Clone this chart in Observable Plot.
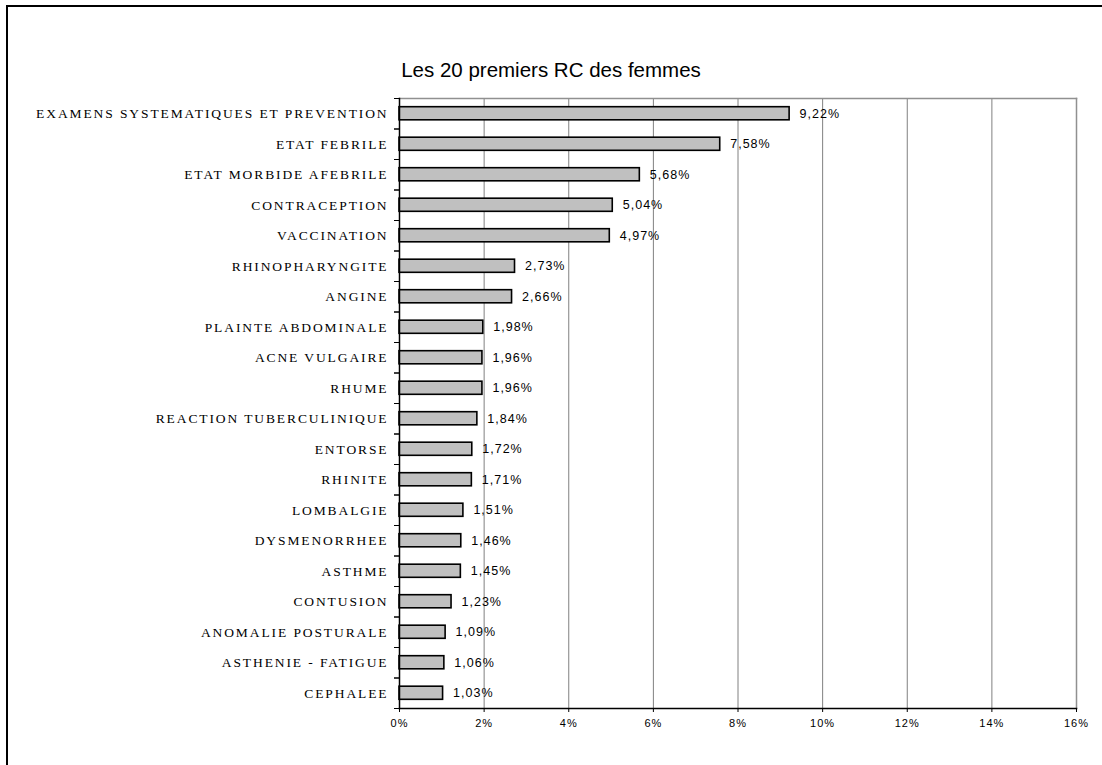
<!DOCTYPE html>
<html>
<head>
<meta charset="utf-8">
<script src="https://cdn.jsdelivr.net/npm/d3@7"></script>
<script src="https://cdn.jsdelivr.net/npm/@observablehq/plot@0.6"></script>
<style>
  html, body { margin: 0; padding: 0; background: #fff; }
  #wrap { position: relative; width: 1102px; height: 765px; overflow: hidden; }
  #border { position: absolute; left: 6px; top: 5px; width: 1200px; height: 900px;
            border-left: 2px solid #000; border-top: 2px solid #000; }
  #title { position: absolute; left: 0; top: 58px; width: 1102px; text-align: center;
           font-family: "Liberation Sans", Arial, sans-serif; font-size: 20.5px; color: #000; }
  #chart { position: absolute; left: 0; top: 0; }
  .ylab text { letter-spacing: 1.9px; }
  .vlab text { letter-spacing: 1px; }
  .xlab text { letter-spacing: 1px; }
</style>
</head>
<body>
<div id="wrap">
  <div id="border"></div>
  <div id="title">Les 20 premiers RC des femmes</div>
  <div id="chart"></div>
</div>
<script>
const categories = [
  "EXAMENS SYSTEMATIQUES ET PREVENTION",
  "ETAT FEBRILE",
  "ETAT MORBIDE AFEBRILE",
  "CONTRACEPTION",
  "VACCINATION",
  "RHINOPHARYNGITE",
  "ANGINE",
  "PLAINTE ABDOMINALE",
  "ACNE VULGAIRE",
  "RHUME",
  "REACTION TUBERCULINIQUE",
  "ENTORSE",
  "RHINITE",
  "LOMBALGIE",
  "DYSMENORRHEE",
  "ASTHME",
  "CONTUSION",
  "ANOMALIE POSTURALE",
  "ASTHENIE - FATIGUE",
  "CEPHALEE"
];
const values = [9.22, 7.58, 5.68, 5.04, 4.97, 2.73, 2.66, 1.98, 1.96, 1.96,
                1.84, 1.72, 1.71, 1.51, 1.46, 1.45, 1.23, 1.09, 1.06, 1.03];
const xTicks = [0, 2, 4, 6, 8, 10, 12, 14, 16];

const data = categories.map((c, i) => ({cat: c, val: values[i]}));
const fmt = v => v.toFixed(2).replace(".", ",") + "%";

const W = 1102, H = 765;
const mL = 399, mR = 26, mT = 98, mB = 57;
const halfStep = (H - mT - mB) / categories.length / 2;

const chart = Plot.plot({
  width: W,
  height: H,
  marginLeft: mL,
  marginRight: mR,
  marginTop: mT,
  marginBottom: mB,
  style: {fontFamily: "Liberation Sans, Arial, sans-serif", fontSize: "11px", color: "#000", background: "transparent"},
  x: {domain: [0, 16], ticks: xTicks, tickFormat: d => d + "%"},
  y: {domain: categories, paddingInner: 0.57, paddingOuter: 0.285, round: false},
  marks: [
    Plot.gridX(xTicks, {stroke: "#808080", strokeOpacity: 1, strokeWidth: 1}),
    Plot.frame({anchor: "top", stroke: "#909090", strokeWidth: 1.5}),
    Plot.frame({anchor: "right", stroke: "#909090", strokeWidth: 1.5}),
    Plot.barX(data, {x: "val", y: "cat", fill: "#c0c0c0", stroke: "#000", strokeWidth: 1.6}),
    Plot.text(data, {x: "val", y: "cat", text: d => fmt(d.val), textAnchor: "start", dx: 10,
                     fontFamily: "Liberation Sans, Arial, sans-serif", fontSize: 12.5, fill: "#000",
                     className: "vlab"}),
    Plot.axisY({tickSize: 0, tickPadding: 11, fontFamily: "Liberation Serif, Times New Roman, serif",
                fontSize: 13.5, className: "ylab", label: null}),
    Plot.axisY({text: null, tickSize: 5, dy: -halfStep, label: null}),
    Plot.axisY({text: null, tickSize: 5, dy: halfStep, label: null}),
    Plot.axisX({ticks: xTicks, tickSize: 4, tickPadding: 7, tickFormat: d => d + "%", label: null,
                fontSize: 11, className: "xlab"}),
    Plot.frame({anchor: "left", stroke: "#000", strokeWidth: 1.5}),
    Plot.frame({anchor: "bottom", stroke: "#000", strokeWidth: 1.5})
  ]
});
document.getElementById("chart").appendChild(chart);
</script>
</body>
</html>
